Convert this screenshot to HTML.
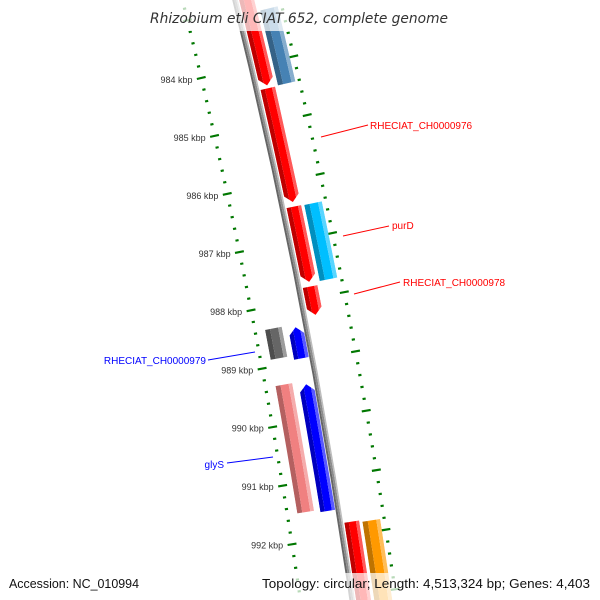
<!DOCTYPE html>
<html><head><meta charset="utf-8">
<style>
html,body{margin:0;padding:0;background:#fff;width:600px;height:600px;overflow:hidden;}
svg{display:block;font-family:"Liberation Sans","DejaVu Sans",sans-serif;overflow:hidden;}
</style></head>
<body>
<svg id="map" width="600" height="600" viewBox="0 0 600 600" xmlns="http://www.w3.org/2000/svg">
<defs id="defs"></defs>
<g id="ticks"></g>
<g id="backbone"></g>
<g id="features"></g>
<g id="labels"></g>
<rect x="146" y="0" width="308" height="31" fill="#fff" opacity="0.72"/>
<text x="150" y="23" textLength="298" lengthAdjust="spacingAndGlyphs" font-family="DejaVu Sans, Liberation Sans, sans-serif" font-size="14" font-style="italic" fill="#333">Rhizobium etli CIAT 652, complete genome</text>
<rect x="0" y="573" width="600" height="27" fill="#fff" opacity="0.72"/>
<text x="9" y="588" textLength="130" lengthAdjust="spacingAndGlyphs" font-size="12.5" fill="#111">Accession: NC_010994</text>
<text x="262" y="588" textLength="328" lengthAdjust="spacingAndGlyphs" font-size="12.5" fill="#111">Topology: circular; Length: 4,513,324 bp; Genes: 4,403</text>
</svg>
<script>
// data
const tickStarts = [982.0];
const tickEnds = [994.0];
const majorLabels = [984, 985, 986, 987, 988, 989, 990, 991, 992];
const featureNames = ["gene-a","rheciat-ch0000976","gene-c","rheciat-ch0000978","gene-e","gene-f","purd","gene-h","gene-i","rheciat-ch0000979","gene-k","glys"];
const featureStarts = [982.3, 984.42, 986.44, 987.80, 991.78, 983.13, 986.45, 991.81, 988.42, 988.37, 989.39, 989.33];
const featureEnds   = [984.37, 986.36, 987.72, 988.28, 993.4, 984.41, 987.74, 993.4, 988.95, 988.88, 991.54, 991.50];
const featureTracks = [1, 1, 1, 1, 1, 2, 2, 2, -1, -2, -1, -2];
const featureStrands = [1, 1, 1, 1, 0, 0, 0, 0, -1, 0, -1, 0];
const featureColors = ["#ff0000","#ff0000","#ff0000","#ff0000","#ff0000","#4682b4","#00bfff","#ff9900","#0000ff","#666666","#0000ff","#f08080"];

// geometry
const CX = -5930.9, CY = 1513.8, R = 6349;
const A0 = -0.2300, DK = 0.009431;
const trackR = {"1":[6353,6368],"2":[6371,6389],"-1":[6331,6346],"-2":[6308,6325]};
const NS = "http://www.w3.org/2000/svg";
function ang(k){return A0 + (k-984)*DK;}
function pt(r,k){const a=ang(k);return [CX + r*Math.cos(a), CY + r*Math.sin(a)];}
function mk(tag, attrs){const e=document.createElementNS(NS,tag);for(const k in attrs)e.setAttribute(k,attrs[k]);return e;}
function band(r1,r2,k1,k2){
  const p=[];const n=8;
  for(let i=0;i<=n;i++)p.push(pt(r1,k1+(k2-k1)*i/n));
  for(let i=n;i>=0;i--)p.push(pt(r2,k1+(k2-k1)*i/n));
  return p.map(q=>q[0].toFixed(2)+","+q[1].toFixed(2)).join(" ");
}
function shade(hex,f){
  const n=parseInt(hex.slice(1),16);let r=n>>16,g=(n>>8)&255,b=n&255;
  if(f<0){r*=1+f;g*=1+f;b*=1+f;}else{r+= (255-r)*f;g+=(255-g)*f;b+=(255-b)*f;}
  return "rgb("+Math.round(r)+","+Math.round(g)+","+Math.round(b)+")";
}

// ticks
const tg=document.getElementById("ticks");
for(let k=tickStarts[0]; k<=tickEnds[0]+1e-6; k+=0.2){
  const kk=Math.round(k*10)/10;
  const major=Math.abs(kk-Math.round(kk))<1e-6;
  [[6298,"inner"],[6393,"outer"]].forEach(([rc,side])=>{
    const h = major?4.5:1.6;
    const poly=mk("polygon",{points:band(rc-h,rc+h,kk-0.018,kk+0.018),fill:"#007700"});
    
    
    tg.appendChild(poly);
  });
}
majorLabels.forEach(k=>{
  const p=pt(6289,k);
  const t=mk("text",{x:p[0].toFixed(1),y:(p[1]+3).toFixed(1),"text-anchor":"end","font-size":"9",fill:"#333"});
  t.textContent=k+" kbp";
  
  
  tg.appendChild(t);
});

// backbone
const bg=document.getElementById("backbone");
[[6346.5,6348.5,"#666"],[6348.5,6350.5,"#8c8c8c"],[6350.5,6352,"#bdbdbd"]].forEach(([a,b,c])=>{
  const p=mk("polygon",{points:band(a,b,980.5,994.5),fill:c});
  
  
  bg.appendChild(p);
});

// features
const fg=document.getElementById("features");
const defs=document.getElementById("defs");
for(let i=0;i<featureNames.length;i++){
  const [r1,r2]=trackR[String(featureTracks[i])];
  const k1=featureStarts[i], k2=featureEnds[i], s=featureStrands[i];
  const head=0.12, rm=(r1+r2)/2;
  let pts=[];
  if(s===1){
    const kb=k2-head;
    pts=[pt(r1,k1),pt(r1,kb),pt(rm,k2),pt(r2,kb),pt(r2,k1)];
  }else if(s===-1){
    const kb=k1+head;
    pts=[pt(rm,k1),pt(r1,kb),pt(r1,k2),pt(r2,k2),pt(r2,kb)];
  }else{
    pts=[pt(r1,k1),pt(r1,k2),pt(r2,k2),pt(r2,k1)];
  }
  const cp=mk("clipPath",{id:"clip"+i});
  cp.appendChild(mk("polygon",{points:pts.map(q=>q[0].toFixed(2)+","+q[1].toFixed(2)).join(" ")}));
  defs.appendChild(cp);
  const g=mk("g",{"clip-path":"url(#clip"+i+")"});
  
  
  const c=featureColors[i], w=r2-r1;
  [[r1,r1+w*0.3,shade(c,-0.25)],[r1+w*0.3,r1+w*0.78,c],[r1+w*0.78,r2,shade(c,0.35)]].forEach(([a,b,col])=>{
    g.appendChild(mk("polygon",{points:band(a,b,k1-0.05,k2+0.05),fill:col}));
  });
  fg.appendChild(g);
}

// labels
const labelTexts = ["RHECIAT_CH0000976","purD","RHECIAT_CH0000978","RHECIAT_CH0000979","glyS"];
const lg=document.getElementById("labels");
const labelGeom=[[321,137,368,125,370,129,"start","#ff0000"],[343,236,389,226,392,229,"start","#ff0000"],[354,294,400,282,403,286,"start","#ff0000"],[255,352,208,360,206,364,"end","#0000ff"],[273,457,227,463,224,468,"end","#0000ff"]];
labelTexts.forEach((txt,i)=>{
  const [x1,y1,x2,y2,tx,ty,anc,col]=labelGeom[i];
  const l=mk("line",{x1,y1,x2,y2,stroke:col,"stroke-width":"1"});
  
  
  lg.appendChild(l);
  const t=mk("text",{x:tx,y:ty,"text-anchor":anc,"font-size":"10",fill:col});
  t.textContent=txt;
  
  
  lg.appendChild(t);
});
</script>
</body></html>
